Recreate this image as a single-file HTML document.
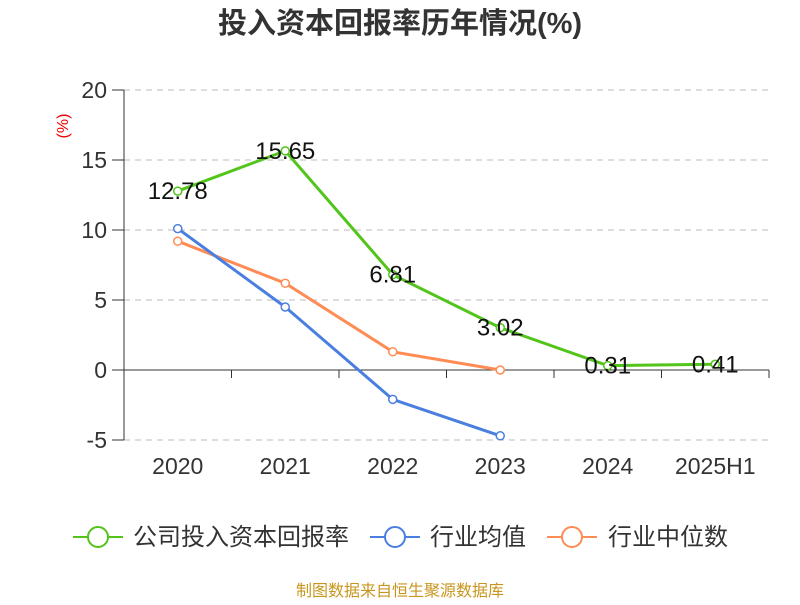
<!DOCTYPE html>
<html><head><meta charset="utf-8"><style>
body{margin:0;background:#fff;}
svg text{font-family:"Liberation Sans","Noto Sans CJK SC",sans-serif;}
</style></head><body>
<svg width="800" height="600" id="c">
<text x="400" y="33" text-anchor="middle" font-size="29" font-weight="bold" fill="#333">投入资本回报率历年情况(%)</text>
<text transform="translate(68,126) rotate(-90)" text-anchor="middle" font-size="16" fill="#e00">(%)</text>
<g id="grid"></g><g id="axes"></g><g id="series"></g>
<g>
<g><line x1="73" y1="537" x2="123" y2="537" stroke="#52c41a" stroke-width="2"/><circle cx="98" cy="537" r="10" fill="#fff" stroke="#52c41a" stroke-width="2"/><text x="133" y="545" font-size="24" fill="#333">公司投入资本回报率</text></g>
<g><line x1="370" y1="537" x2="420" y2="537" stroke="#4a7fe0" stroke-width="2"/><circle cx="395" cy="537" r="10" fill="#fff" stroke="#4a7fe0" stroke-width="2"/><text x="430" y="545" font-size="24" fill="#333">行业均值</text></g>
<g><line x1="547" y1="537" x2="597" y2="537" stroke="#ff8c55" stroke-width="2"/><circle cx="572" cy="537" r="10" fill="#fff" stroke="#ff8c55" stroke-width="2"/><text x="608" y="545" font-size="24" fill="#333">行业中位数</text></g>
</g>
<text x="400" y="596" text-anchor="middle" font-size="16" fill="#c8961e">制图数据来自恒生聚源数据库</text>
</svg>
<script>
const categories=["2020","2021","2022","2023","2024","2025H1"];
const yTicks=[-5,0,5,10,15,20];
const company=[12.78,15.65,6.81,3.02,0.31,0.41];
const industryAvg=[10.1,4.5,-2.1,-4.7,null,null];
const industryMedian=[9.2,6.2,1.3,0.0,null,null];
const NS="http://www.w3.org/2000/svg";
const x0=124,x1=769,yTop=90,yBot=440,vMin=-5,vMax=20;
const bw=(x1-x0)/categories.length;
const xS=i=>x0+bw*(i+0.5);
const yS=v=>yBot-(v-vMin)/(vMax-vMin)*(yBot-yTop);
function mk(t,a,p){const e=document.createElementNS(NS,t);for(const k in a)e.setAttribute(k,a[k]);p.appendChild(e);return e;}
const grid=document.getElementById('grid'),axes=document.getElementById('axes'),ser=document.getElementById('series');
yTicks.forEach(v=>{
 if(v!==0){const l=mk('line',{x1:x0,x2:x1,y1:yS(v),y2:yS(v),stroke:'#bbb','stroke-dasharray':'6,5'},grid);
 
 }
 const tk=mk('line',{x1:x0-12,x2:x0,y1:yS(v),y2:yS(v),stroke:'#333'},axes);
 
 
 const t=mk('text',{x:x0-17,y:yS(v)+8,'text-anchor':'end','font-size':23,fill:'#333'},axes);t.textContent=v;
 
 
});
const ya=mk('line',{x1:x0,x2:x0,y1:yTop,y2:yBot,stroke:'#333'},axes);


const xa=mk('line',{x1:x0,x2:x1,y1:yS(0),y2:yS(0),stroke:'#333'},axes);


for(let i=0;i<=categories.length;i++){const tk=mk('line',{x1:x0+bw*i,x2:x0+bw*i,y1:yS(0),y2:yS(0)+8,stroke:'#333'},axes);
 
 }
categories.forEach((c,i)=>{const t=mk('text',{x:xS(i),y:474,'text-anchor':'middle','font-size':23,fill:'#333'},axes);t.textContent=c;
 
 });
function draw(data,color,name,labels){
 const g=mk('g',{},ser);
 
 
 const pts=[];data.forEach((v,i)=>{if(v!==null)pts.push([xS(i),yS(v),v]);});
 const pl=mk('polyline',{points:pts.map(p=>p[0]+','+p[1]).join(' '),fill:'none',stroke:color,'stroke-width':3},g);
 
 
 pts.forEach(p=>{const c=mk('circle',{cx:p[0],cy:p[1],r:4,fill:'#fff',stroke:color,'stroke-width':1.5},g);
  
  
  if(labels){const t=mk('text',{x:p[0],y:p[1]+8,'text-anchor':'middle','font-size':24,fill:'#111'},g);t.textContent=p[2].toFixed(2);
  
  }});
}
draw(industryMedian,'#ff8c55','industry-median-series',false);
draw(industryAvg,'#4a7fe0','industry-average-series',false);
draw(company,'#52c41a','company-series',true);
</script>
</body></html>
